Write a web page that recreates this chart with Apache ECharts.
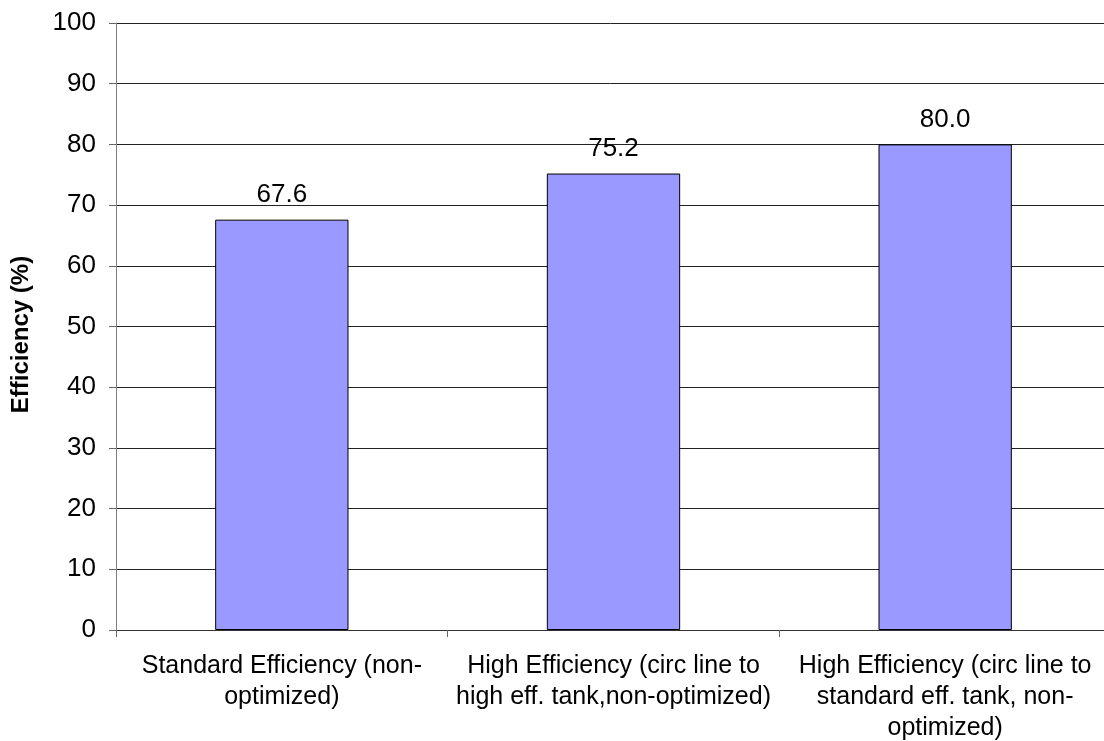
<!DOCTYPE html>
<html>
<head>
    <meta charset='utf-8' />
    <title>efficiency</title>
    <script src="https://cdn.jsdelivr.net/npm/echarts@6/dist/echarts.min.js"></script>
</head>
<body style='margin:0;width:1104px;height:741px;background:#fff;'>
<div id='bar' style='width:1104px;height:741px;'></div>

<script type='text/javascript'>
    // data
    var categories = [
        'Standard Efficiency (non-\noptimized)',
        'High Efficiency (circ line to\nhigh eff. tank,non-optimized)',
        'High Efficiency (circ line to\nstandard eff. tank, non-\noptimized)'
    ];
    var efficiency = [67.6, 75.2, 80.0];
    var yTicks = [0, 10, 20, 30, 40, 50, 60, 70, 80, 90, 100];

    var fontFam = 'Liberation Sans, Arial, sans-serif';

    var myChart = echarts.init(document.getElementById('bar'));

    var option = {
        animation: false,
        textStyle: { fontFamily: fontFam },
        // plot runs past the right edge of the picture
        grid: {
            left: 116, top: 23, right: -7, bottom: 111,
            containLabel: false, outerBoundsMode: 'none'
        },
        xAxis: {
            type: 'category',
            data: categories,
            axisLine: { lineStyle: { color: '#333', width: 1 } },
            axisTick: { show: true, alignWithLabel: false, length: 7, lineStyle: { color: '#666' } },
            axisLabel: {
                color: '#000', fontSize: 25, lineHeight: 31, margin: 21,
                fontFamily: fontFam, interval: 0
            }
        },
        yAxis: {
            type: 'value',
            min: yTicks[0],
            max: yTicks[yTicks.length - 1],
            interval: 10,
            name: 'Efficiency (%)',
            nameLocation: 'middle',
            nameGap: 83,
            nameTextStyle: {
                color: '#000', fontSize: 24, fontWeight: 'bold', fontFamily: fontFam,
                padding: [0, 16, 0, 0]
            },
            axisLine: { show: true, lineStyle: { color: '#808080', width: 1 } },
            axisTick: { show: true, length: 7, lineStyle: { color: '#666' } },
            axisLabel: { color: '#000', fontSize: 26, margin: 20, fontFamily: fontFam },
            splitLine: { show: true, lineStyle: { color: '#222', width: 1 } }
        },
        series: [
            {
                type: 'bar',
                data: efficiency,
                barWidth: '40.2%',
                itemStyle: { color: '#9999FF', borderColor: '#000', borderWidth: 1 },
                label: {
                    show: true,
                    position: 'top',
                    distance: 12,
                    color: '#000',
                    fontSize: 26,
                    fontFamily: fontFam,
                    formatter: function (p) { return p.value.toFixed(1); }
                }
            }
        ]
    };

    myChart.setOption(option);
</script>
</body>
</html>
